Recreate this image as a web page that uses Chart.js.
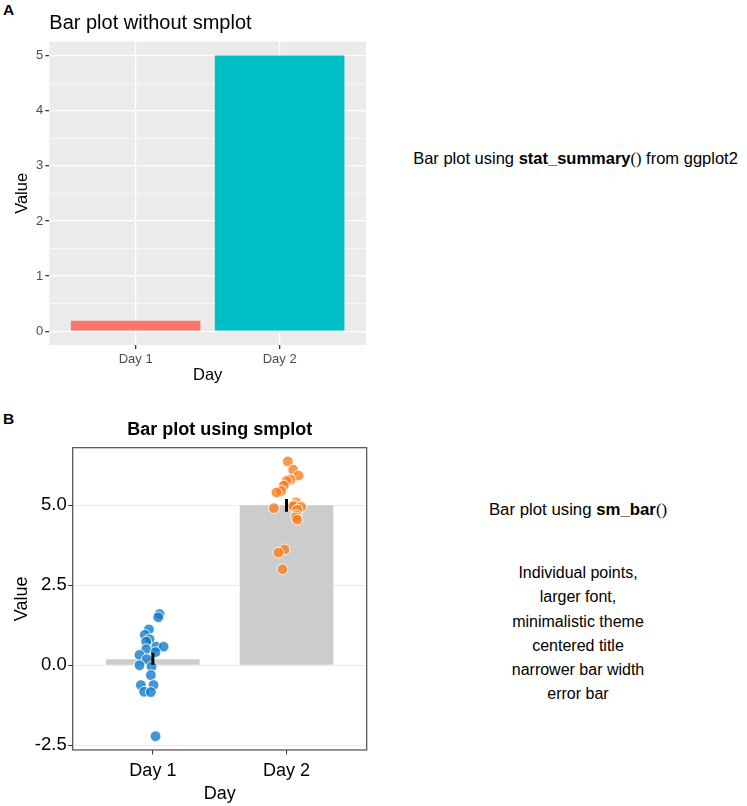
<!DOCTYPE html>
<html>
<head>
<meta charset="utf-8">
<script src="https://cdn.jsdelivr.net/npm/chart.js@4"></script>
<style>
  body { margin: 0; width: 747px; height: 806px; background: #fff; position: relative; font-family: 'Liberation Sans', Arial, sans-serif; color: #000; overflow: hidden; }
  .tag { position: absolute; left: 3px; font-weight: bold; font-size: 15.5px; line-height: 15px; }
  canvas { position: absolute; left: 0; }
  .note { position: absolute; font-size: 16px; line-height: 24px; text-align: center; white-space: nowrap; }
  .note b { font-weight: bold; }
  .paren { font-family: 'Liberation Serif', 'Times New Roman', serif; }
</style>
</head>
<body>
<div class="tag" style="top: 2px;">A</div>
<canvas id="chartA" width="380" height="390" style="top: 0; width: 380px; height: 390px;"></canvas>
<div class="note" style="left: 395px; width: 361px; top: 146px; font-size: 16.5px;">Bar plot using <b>stat_summary</b><span class="paren">()</span> from ggplot2</div>

<div class="tag" style="top: 411px;">B</div>
<canvas id="chartB" width="380" height="416" style="top: 390px; width: 380px; height: 416px;"></canvas>
<div class="note" style="left: 400px; width: 356px; top: 498px; font-size: 16.8px;">Bar plot using <b>sm_bar</b><span class="paren">()</span></div>
<div class="note" style="left: 400px; width: 356px; top: 561px; line-height: 24.25px;">Individual points,<br>larger font,<br>minimalistic theme<br>centered title<br>narrower bar width<br>error bar</div>

<script>
const dayLabels = ['Day 1', 'Day 2'];
const meanValues = [0.19, 5.0];
const errLow = [0.0, 4.8];
const errHigh = [0.39, 5.2];

const day1Values = [1.60, 1.50, 1.12, 0.95, 0.81, 0.74, 0.58, 0.58, 0.50, 0.41,
                    0.32, 0.19, 0.00, -0.04, -0.31, -0.62, -0.62, -0.83, -0.84, -2.22];
const day1Jitter = [0.05, 0.04, -0.03, -0.06, -0.025, -0.05, 0.025, 0.08, -0.05, 0.02,
                    -0.10, -0.045, -0.10, -0.01, -0.015, -0.09, 0.005, -0.065, -0.015, 0.02];
const day2Values = [6.37, 6.11, 5.93, 5.80, 5.76, 5.62, 5.45, 5.40, 5.09, 5.00,
                    4.97, 4.95, 4.91, 4.86, 4.69, 4.62, 4.55, 3.62, 3.52, 3.00];
const day2Jitter = [0.01, 0.05, 0.09, 0.03, 0.0, -0.02, -0.04, -0.075, 0.07, 0.06,
                    0.05, 0.11, -0.095, 0.08, 0.075, 0.07, 0.08, -0.015, -0.06, -0.03];

const yTicksA = [0, 1, 2, 3, 4, 5];
const yMinorA = [0.5, 1.5, 2.5, 3.5, 4.5];
const yTicksB = [-2.5, 0, 2.5, 5];

Chart.defaults.font.family = "'Liberation Sans', Arial, sans-serif";
Chart.defaults.devicePixelRatio = 1;

// panel background and border, like ggplot's panel
const panelPlugin = {
    id: 'panel',
    beforeDraw: (chart, args, opts) => {
        if (!opts.bg) return;
        const a = chart.chartArea;
        chart.ctx.save();
        chart.ctx.fillStyle = opts.bg;
        chart.ctx.fillRect(a.left, a.top, a.right - a.left, a.bottom - a.top);
        chart.ctx.restore();
    },
    afterDatasetsDraw: (chart, args, opts) => {
        if (!opts.border) return;
        const a = chart.chartArea;
        chart.ctx.save();
        chart.ctx.strokeStyle = opts.border;
        chart.ctx.lineWidth = 1.2;
        chart.ctx.strokeRect(a.left, a.top, a.right - a.left, a.bottom - a.top);
        chart.ctx.restore();
    }
};

const dayTicks = s => { s.ticks = dayLabels.map((d, i) => ({ value: i + 1 })); };
const isMajorA = v => yTicksA.includes(v);

new Chart(document.getElementById('chartA'), {
    type: 'bar',
    data: {
        datasets: [{
            data: dayLabels.map((d, i) => ({ x: i + 1, y: meanValues[i] })),
            backgroundColor: ['#F8766D', '#00BFC4'],
            barPercentage: 0.9,
            categoryPercentage: 1
        }]
    },
    options: {
        responsive: false,
        animation: false,
        layout: { padding: { left: 0, right: 14, top: 0, bottom: 0 } },
        plugins: {
            legend: { display: false },
            tooltip: { enabled: false },
            title: {
                display: true, text: 'Bar plot without smplot', align: 'start', fullSize: false,
                color: '#000', font: { size: 20, weight: 'normal' }, padding: { top: 11, bottom: 6.7 }
            },
            panel: { bg: '#ebebeb' }
        },
        scales: {
            x: {
                type: 'linear', min: 0.4, max: 2.6, offset: false,
                afterBuildTicks: dayTicks,
                afterFit: s => { s.height = 45; },
                ticks: { callback: v => dayLabels[v - 1], color: '#4d4d4d', font: { size: 13 }, padding: 2.5 },
                grid: { offset: false, color: '#ffffff', lineWidth: 1.3, tickColor: '#333333', tickLength: 4 },
                border: { display: false },
                title: { display: true, text: 'Day', color: '#000', font: { size: 16.5 }, padding: { top: 0, bottom: 4.5 } }
            },
            y: {
                min: -0.25, max: 5.25,
                afterBuildTicks: s => { s.ticks = yTicksA.concat(yMinorA).sort((a, b) => a - b).map(v => ({ value: v })); },
                afterFit: s => { s.width = 49.3; },
                ticks: { callback: v => isMajorA(v) ? String(v) : '', color: '#4d4d4d', font: { size: 13 }, padding: 2 },
                grid: {
                    color: '#ffffff',
                    lineWidth: c => isMajorA(c.tick.value) ? 1.3 : 0.6,
                    tickColor: c => isMajorA(c.tick.value) ? '#333333' : 'rgba(0,0,0,0)',
                    tickLength: 4
                },
                border: { display: false },
                title: { display: true, text: 'Value', color: '#000', font: { size: 16.5 }, padding: { top: 12.5, bottom: 0 } }
            }
        }
    },
    plugins: [panelPlugin]
});

new Chart(document.getElementById('chartB'), {
    type: 'bar',
    data: {
        datasets: [
            {
                label: 'error',
                data: dayLabels.map((d, i) => ({ x: i + 1, y: [errLow[i], errHigh[i]] })),
                backgroundColor: '#000000',
                grouped: false,
                maxBarThickness: 3,
                order: 0
            },
            {
                type: 'scatter',
                label: dayLabels[0],
                data: day1Values.map((v, i) => ({ x: 1 + day1Jitter[i], y: v })),
                backgroundColor: 'rgba(16,124,204,0.8)',
                borderColor: 'rgba(255,255,255,0.9)',
                borderWidth: 1,
                pointRadius: 5.4,
                order: 1
            },
            {
                type: 'scatter',
                label: dayLabels[1],
                data: day2Values.map((v, i) => ({ x: 2 + day2Jitter[i], y: v })),
                backgroundColor: 'rgba(247,128,32,0.8)',
                borderColor: 'rgba(255,255,255,0.9)',
                borderWidth: 1,
                pointRadius: 5.4,
                order: 1
            },
            {
                label: 'mean',
                data: dayLabels.map((d, i) => ({ x: i + 1, y: meanValues[i] })),
                backgroundColor: '#cccccc',
                grouped: false,
                barPercentage: 0.7,
                categoryPercentage: 1,
                order: 2
            }
        ]
    },
    options: {
        responsive: false,
        animation: false,
        layout: { padding: { left: 0, right: 13.3, top: 0, bottom: 0 } },
        plugins: {
            legend: { display: false },
            tooltip: { enabled: false },
            title: {
                display: true, text: 'Bar plot using smplot', align: 'center', fullSize: false,
                color: '#000', font: { size: 18, weight: 'bold' }, padding: { top: 29.2, bottom: 6.9 }
            },
            panel: { border: '#4d4d4d' }
        },
        scales: {
            x: {
                type: 'linear', min: 0.4, max: 2.6, offset: false,
                afterBuildTicks: dayTicks,
                afterFit: s => { s.height = 56; },
                ticks: { callback: v => dayLabels[v - 1], color: '#000', font: { size: 18 }, padding: 6 },
                grid: { offset: false, drawOnChartArea: false, color: '#333333', tickLength: 4.5 },
                border: { display: false },
                title: { display: true, text: 'Day', color: '#000', font: { size: 18 }, padding: { top: 0, bottom: 1.2 } }
            },
            y: {
                min: -2.65, max: 6.8,
                afterBuildTicks: s => { s.ticks = yTicksB.map(v => ({ value: v })); },
                afterFit: s => { s.width = 72.7; },
                ticks: { callback: v => v.toFixed(1), color: '#000', font: { size: 18.5 }, padding: 1.5 },
                grid: { color: '#ebebeb', lineWidth: 1, tickColor: '#333333', tickLength: 4.5 },
                border: { display: false },
                title: { display: true, text: 'Value', color: '#000', font: { size: 18 }, padding: { top: 11.5, bottom: 0 } }
            }
        }
    },
    plugins: [panelPlugin]
});
</script>
</body>
</html>
